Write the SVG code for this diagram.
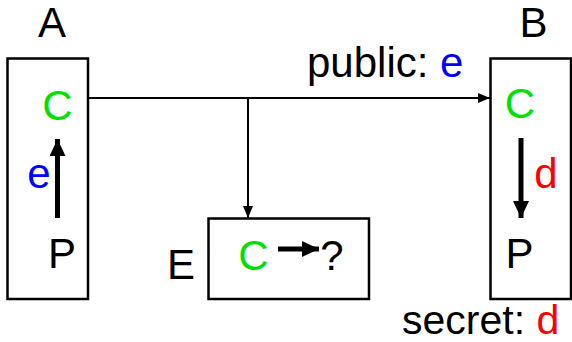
<svg xmlns="http://www.w3.org/2000/svg" width="572" height="342" viewBox="0 0 572 342">
<style>
text{font-family:"Liberation Sans",Arial,sans-serif;font-size:42px;fill:#000}
.c{text-anchor:middle}
.g{fill:#00e000}
.b{fill:#0000ff}
.r{fill:#ff0000}
.box{fill:#fff;stroke:#000;stroke-width:2.5}
.thin{stroke:#000;stroke-width:2;fill:none}
.thick{stroke:#000;stroke-width:5;fill:none}
</style>
<defs>
<marker id="ah" markerWidth="12" markerHeight="10" refX="12" refY="5" orient="auto" markerUnits="userSpaceOnUse">
<path d="M0,0 L12,5 L0,10 Z" fill="#000"/>
</marker>
<marker id="bh" markerWidth="17" markerHeight="16" refX="17" refY="8" orient="auto" markerUnits="userSpaceOnUse">
<path d="M0,0 L17,8 L0,16 Z" fill="#000"/>
</marker>
</defs>
<g id="A">
<rect class="box" x="7.5" y="58.5" width="80.5" height="240.5"/>
<text class="c" x="52" y="37">A</text>
<text class="c g" x="57.5" y="120">C</text>
<text class="c b" x="39" y="188">e</text>
<text class="c" x="62" y="268">P</text>
<line class="thick" x1="57.5" y1="218" x2="57.5" y2="139" marker-end="url(#bh)"/>
</g>
<g id="B">
<rect class="box" x="490.5" y="58.5" width="80.5" height="240.5"/>
<text class="c" x="533.5" y="37">B</text>
<text class="c g" x="520" y="118">C</text>
<text class="c r" x="546" y="188">d</text>
<text class="c" x="519.5" y="268">P</text>
<line class="thick" x1="521" y1="138" x2="521" y2="218" marker-end="url(#bh)"/>
<text x="402" y="334" style="font-size:41px">secret: <tspan class="r">d</tspan></text>
</g>
<g id="E">
<rect class="box" x="208.5" y="218.5" width="160.5" height="80.5"/>
<text x="167" y="279">E</text>
<text class="c g" x="253.5" y="270">C</text>
<line class="thick" x1="278" y1="249" x2="319" y2="249" marker-end="url(#bh)"/>
<text class="c" x="332" y="270">?</text>
</g>
<g id="connectors">
<line class="thin" x1="88" y1="98" x2="490" y2="98" marker-end="url(#ah)"/>
<line class="thin" x1="248" y1="98" x2="248" y2="218" marker-end="url(#ah)"/>
<text x="307" y="77">public: <tspan class="b">e</tspan></text>
</g>
</svg>
